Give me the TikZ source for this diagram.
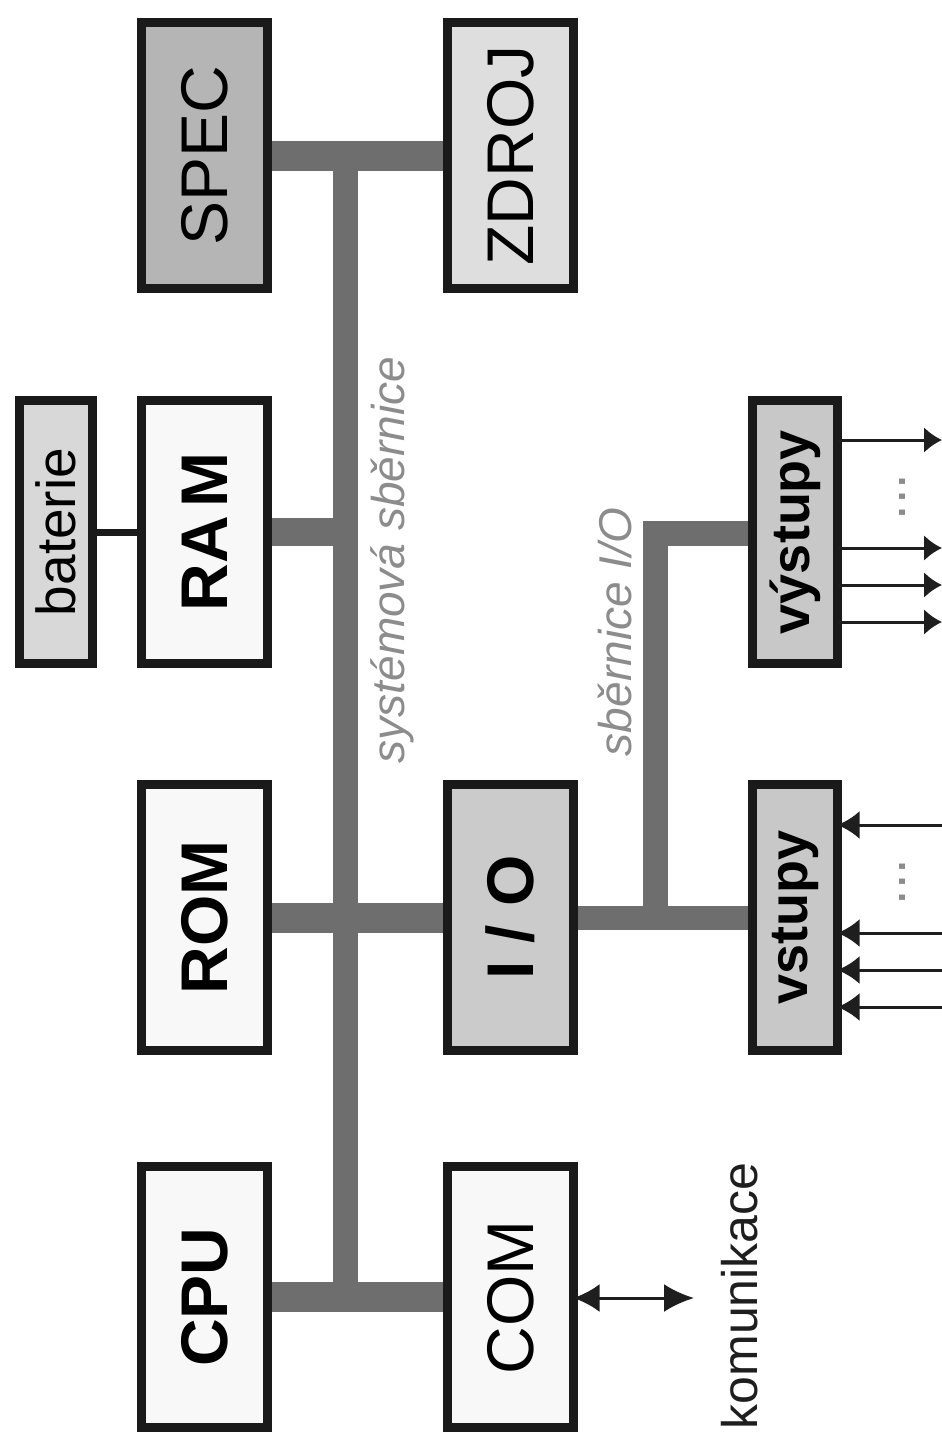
\documentclass[tikz,border=0pt]{standalone}
\usepackage{fontspec}
\setmainfont{Liberation Sans}
\usetikzlibrary{arrows.meta,backgrounds}
\definecolor{busgray}{HTML}{6E6E6E}
\definecolor{bordercol}{HTML}{1A1A1A}
\definecolor{specfill}{HTML}{B5B5B5}
\definecolor{zdrojfill}{HTML}{DEDEDE}
\definecolor{batfill}{HTML}{D8D8D8}
\definecolor{whitefill}{HTML}{F8F8F8}
\definecolor{iofill}{HTML}{CBCBCB}
\definecolor{vfill}{HTML}{C8C8C8}
\definecolor{labelgray}{HTML}{8C8C8C}
\definecolor{arrowcol}{HTML}{1E1E1E}
\tikzset{
  unitbox/.style={draw=bordercol, line width=9pt, inner sep=0pt, outer sep=0pt,
     font=\fontsize{66}{70}\selectfont},
  bigbox/.style={unitbox, minimum width=126pt, minimum height=266pt},
  smallbox/.style={unitbox, minimum width=85pt, minimum height=263pt,
     font=\bfseries\fontsize{54}{58}\selectfont},
  busbar/.style={draw=busgray, line width=30pt},
  buslabel/.style={inner sep=0pt, text=labelgray, font=\itshape\fontsize{46}{50}\selectfont},
  sigline/.style={draw=arrowcol, line width=3pt},
  outarrow/.style={sigline, -{Latex[length=18pt,width=26pt]}},
  inarrow/.style={sigline, -{Latex[length=22pt,width=28pt]}},
  dotslabel/.style={inner sep=0pt, text=labelgray, font=\fontsize{56}{60}\selectfont}
}
\begin{document}
\begin{tikzpicture}[x=1pt,y=-1pt]
\useasboundingbox (0,0) rectangle (942,1432);

% boxes
\node[bigbox, fill=specfill] (spec) at (204.5,155.5) {\rotatebox{90}{SPEC}};
\node[bigbox, fill=zdrojfill] (zdroj) at (510.5,155.5) {\rotatebox{90}{ZDROJ}};
\node[unitbox, fill=batfill, minimum width=73pt, minimum height=263pt,
      font=\fontsize{55}{60}\selectfont] (bat) at (56,532) {\rotatebox{90}{baterie}};
\node[bigbox, fill=whitefill, minimum height=263pt, font=\bfseries\fontsize{66}{70}\selectfont]
      (ram) at (204.5,532) {\rotatebox{90}{RA\hspace{0.12em}M}};
\node[smallbox, fill=vfill] (vystupy) at (795,532) {\rotatebox{90}{výstupy}};
\node[bigbox, fill=whitefill, font=\bfseries\fontsize{66}{70}\selectfont]
      (rom) at (204.5,917.5) {\rotatebox{90}{ROM}};
\node[bigbox, fill=iofill, font=\bfseries\fontsize{66}{70}\selectfont]
      (io) at (510.5,917.5) {\rotatebox{90}{I / O}};
\node[smallbox, fill=vfill, minimum height=266pt] (vstupy) at (795,917.5) {\rotatebox{90}{vstupy}};
\node[bigbox, fill=whitefill, minimum height=261pt, font=\bfseries\fontsize{66}{70}\selectfont]
      (cpu) at (204.5,1297) {\rotatebox{90}{CPU}};
\node[bigbox, fill=whitefill, minimum height=261pt] (com) at (510.5,1297) {\rotatebox{90}{COM}};

% bus coordinates
\coordinate (bustop) at (345.5,155.5);
\coordinate (busbot) at (345.5,1297);
\coordinate (iobot) at (655.5,917.5);
\coordinate (iotop) at (655.5,533);

\begin{scope}[on background layer]
  \draw[busbar] (spec.east) -- (zdroj.west);
  \draw[busbar, line width=25pt] (bustop) -- (busbot);
  \draw[busbar, line width=28pt] (ram.east) -- (ram.east -| bustop);
  \draw[busbar] (rom.east) -- (io.west);
  \draw[busbar] (cpu.east) -- (com.west);
  \draw[busbar, line width=24pt] (io.east) -- (vstupy.west);
  \draw[busbar, line width=25pt, line join=miter] (iobot) -- (iotop) -- (vystupy.west |- iotop);
  \draw[draw=bordercol, line width=7pt] (bat.east) -- (ram.west);
\end{scope}

% labels
\node[buslabel] (syslabel) at (392,560) {\rotatebox{90}{systémová sběrnice}};
\node[buslabel] (iolabel) at (615,632) {\rotatebox{90}{sběrnice I/O}};

% outputs
\coordinate (o1) at (942,440);
\coordinate (o2) at (942,548);
\coordinate (o3) at (942,585);
\coordinate (o4) at (942,622);
\draw[outarrow] (vystupy.east |- o1) -- (o1);
\draw[outarrow] (vystupy.east |- o2) -- (o2);
\draw[outarrow] (vystupy.east |- o3) -- (o3);
\draw[outarrow] (vystupy.east |- o4) -- (o4);
\node[dotslabel] (odots) at (902,497) {\rotatebox{90}{...}};

% inputs
\coordinate (i1) at (942,825);
\coordinate (i2) at (942,933);
\coordinate (i3) at (942,970);
\coordinate (i4) at (942,1007);
\draw[inarrow] (i1) -- (vstupy.east |- i1);
\draw[inarrow] (i2) -- (vstupy.east |- i2);
\draw[inarrow] (i3) -- (vstupy.east |- i3);
\draw[inarrow] (i4) -- (vstupy.east |- i4);
\node[dotslabel] (idots) at (902,882) {\rotatebox{90}{...}};

% communication
\coordinate (komend) at (694,1298);
\draw[sigline, {Latex[length=26pt,width=28pt]}-{Latex[length=30pt,width=28pt]}] (com.east |- komend) -- (komend);
\node[inner sep=0pt, text=arrowcol, font=\fontsize{50}{54}\selectfont] (kom) at (740,1296) {\rotatebox{90}{komunikace}};
\end{tikzpicture}
\end{document}
